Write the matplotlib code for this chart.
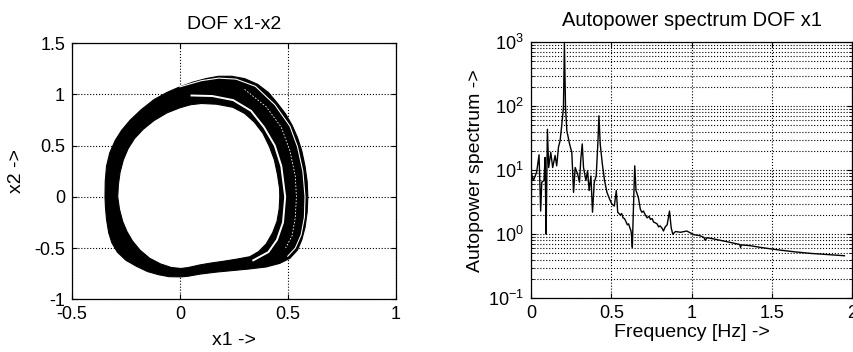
import numpy as np
import matplotlib
matplotlib.use("Agg")
import matplotlib.pyplot as plt
from matplotlib.ticker import LogLocator, NullFormatter

plt.rcParams['font.family'] = ['Liberation Sans', 'DejaVu Sans']
plt.rcParams['mathtext.default'] = 'regular'
plt.rcParams['font.size'] = 14

# --- phase portrait x1-x2 ---
# outermost edge of the trajectory bundle
outer_x1 = [-0.347, -0.346, -0.34, -0.325, -0.30, -0.27, -0.23, -0.18, -0.12, -0.06, 0.00,
            0.06, 0.12, 0.18, 0.24, 0.30, 0.36, 0.41, 0.45, 0.49, 0.52, 0.545, 0.565,
            0.58, 0.59, 0.593, 0.59, 0.58, 0.565, 0.545, 0.51, 0.463, 0.40, 0.32, 0.245,
            0.17, 0.093, 0.04, 0.005, -0.05, -0.10, -0.15, -0.20, -0.25, -0.29, -0.315,
            -0.33, -0.34, -0.345]
outer_x2 = [0.0, 0.15, 0.3, 0.43, 0.55, 0.65, 0.75, 0.85, 0.95, 1.02, 1.075,
            1.12, 1.155, 1.178, 1.178, 1.155, 1.10, 1.02, 0.92, 0.81, 0.70, 0.58, 0.45,
            0.30, 0.15, 0.0, -0.15, -0.3, -0.42, -0.52, -0.60, -0.65, -0.685, -0.705, -0.72,
            -0.735, -0.755, -0.775, -0.782, -0.78, -0.76, -0.73, -0.68, -0.62, -0.54, -0.45,
            -0.35, -0.22, -0.1]
# inner edge (the hole)
inner_x1 = [-0.288, -0.285, -0.277, -0.262, -0.24, -0.21, -0.17, -0.12, -0.06, 0.00, 0.05,
            0.10, 0.17, 0.245, 0.30, 0.345, 0.385, 0.415, 0.438, 0.452, 0.462, 0.463,
            0.460, 0.450, 0.43, 0.40, 0.365, 0.324, 0.26, 0.20, 0.14, 0.093, 0.04, 0.005,
            -0.04, -0.09, -0.14, -0.185, -0.22, -0.245, -0.265, -0.28]
inner_x2 = [0.0, 0.12, 0.24, 0.36, 0.47, 0.57, 0.66, 0.745, 0.82, 0.87, 0.90,
            0.912, 0.905, 0.875, 0.815, 0.73, 0.62, 0.49, 0.36, 0.22, 0.08, 0.0,
            -0.12, -0.24, -0.35, -0.46, -0.535, -0.585, -0.61, -0.63, -0.648, -0.665, -0.69, -0.70,
            -0.69, -0.655, -0.60, -0.52, -0.43, -0.34, -0.24, -0.12]
# white gap between the inner band and the outer cycles
gap_x1 = [0.054, 0.15, 0.247, 0.33, 0.39, 0.44, 0.47, 0.488, 0.478, 0.45, 0.41, 0.34]
gap_x2 = [0.99, 0.985, 0.945, 0.84, 0.68, 0.5, 0.3, 0.0, -0.25, -0.42, -0.54, -0.62]
# gap just inside the outermost cycle
edge_x1 = [0.0, 0.10, 0.18, 0.26, 0.35, 0.44, 0.51, 0.545, 0.57, 0.58, 0.577, 0.562, 0.535, 0.50]
edge_x2 = [1.075, 1.135, 1.16, 1.15, 1.08, 0.90, 0.69, 0.49, 0.25, 0.0, -0.2, -0.37, -0.5, -0.58]
# texture line inside the outer bundle
mid_x1 = [0.30, 0.40, 0.47, 0.51, 0.535, 0.54, 0.535, 0.52, 0.49]
mid_x2 = [1.05, 0.88, 0.68, 0.45, 0.2, 0.0, -0.2, -0.38, -0.5]

# --- autopower spectrum DOF x1 ---
freq = [0.0, 0.004, 0.015, 0.035, 0.05, 0.06, 0.067, 0.081, 0.0875, 0.094, 0.098, 0.102,
        0.11, 0.123, 0.135, 0.15, 0.16, 0.171, 0.181, 0.19, 0.202, 0.208, 0.215, 0.223,
        0.24, 0.254, 0.265, 0.275, 0.29, 0.302, 0.31, 0.319, 0.327, 0.342, 0.352, 0.362,
        0.373, 0.383, 0.394, 0.406, 0.417, 0.423, 0.431, 0.444, 0.458, 0.473, 0.49, 0.504,
        0.519, 0.531, 0.54, 0.556, 0.565, 0.573, 0.582, 0.59, 0.6, 0.608, 0.616, 0.623,
        0.627, 0.631, 0.638, 0.646, 0.654, 0.669, 0.681, 0.69, 0.70, 0.712, 0.723, 0.735,
        0.744, 0.755, 0.763, 0.775, 0.785, 0.795, 0.804, 0.815, 0.825, 0.836, 0.848, 0.8625,
        0.873, 0.883, 0.9, 0.931, 0.97, 1.015, 1.05, 1.077, 1.085, 1.096, 1.14, 1.223,
        1.30, 1.305, 1.31, 1.367, 1.431, 1.535, 1.64, 1.744, 1.848, 1.952]
power = [1.6, 8.7, 6.9, 9.3, 17.4, 2.3, 6.5, 6.9, 15.8, 1.0, 6.9, 43.6,
         11.0, 19.0, 11.0, 17.0, 11.7, 22.9, 28.8, 46.8, 95.5, 955.0, 95.5, 41.7,
         25.7, 19.0, 4.5, 11.0, 8.7, 6.5, 14.8, 25.7, 11.0, 6.9, 9.8, 4.8,
         8.1, 2.2, 6.5, 8.1, 28.8, 70.8, 25.7, 12.6, 6.9, 4.5, 3.5, 2.95,
         2.75, 4.8, 2.2, 2.0, 2.1, 1.8, 1.75, 1.6, 1.4, 1.45, 1.25, 1.12,
         0.9, 0.62, 2.6, 11.7, 4.8, 3.7, 2.45, 2.2, 2.3, 2.0, 1.8, 1.9,
         1.7, 1.75, 1.55, 1.5, 1.45, 1.3, 1.35, 1.25, 1.12, 1.3, 1.4, 2.3,
         1.26, 1.0, 1.1, 1.07, 1.12, 0.98, 0.95, 0.89, 0.8, 0.88, 0.84, 0.76,
         0.69, 0.62, 0.68, 0.66, 0.62, 0.57, 0.53, 0.50, 0.48, 0.46]

fig = plt.figure(figsize=(8.54, 3.52), dpi=100)
ax1 = fig.add_axes([0.0843, 0.150, 0.379, 0.727])
ax2 = fig.add_axes([0.6218, 0.153, 0.376, 0.727])

# left: phase portrait
ax1.fill(outer_x1, outer_x2, color='black', lw=0.8, zorder=2)
ax1.fill(inner_x1, inner_x2, color='white', ec='black', lw=0.8, zorder=3)
ax1.plot(gap_x1, gap_x2, color='white', lw=1.4, zorder=4)
ax1.plot(edge_x1, edge_x2, color='white', lw=0.8, zorder=4)
ax1.plot(mid_x1, mid_x2, color='white', lw=0.6, ls=(0, (2, 2)), zorder=4)
ax1.set_xlim(-0.5, 1)
ax1.set_ylim(-1, 1.5)
ax1.set_xticks([-0.5, 0, 0.5, 1])
ax1.set_xticklabels(['-0.5', '0', '0.5', '1'])
ax1.set_yticks([-1, -0.5, 0, 0.5, 1, 1.5])
ax1.set_yticklabels(['-1', '-0.5', '0', '0.5', '1', '1.5'])
ax1.grid(True, ls=':', color='black', lw=0.8)
ax1.set_axisbelow(True)
ax1.set_title('DOF x1-x2', fontsize=14, pad=10)
ax1.set_xlabel('x1 ->')
ax1.set_ylabel('x2 ->')
ax1.xaxis.set_label_coords(0.5, -0.13)
ax1.yaxis.set_label_coords(-0.145, 0.5)

# right: spectrum
ax2.semilogy(freq, power, color='black', lw=1.0)
ax2.set_xlim(0, 2)
ax2.set_ylim(0.1, 1000)
ax2.set_xticks([0, 0.5, 1, 1.5, 2])
ax2.set_xticklabels(['0', '0.5', '1', '1.5', '2'])
ax2.yaxis.set_major_locator(LogLocator(base=10, numticks=10))
ax2.yaxis.set_minor_locator(LogLocator(base=10, subs=np.arange(2, 10), numticks=20))
ax2.yaxis.set_minor_formatter(NullFormatter())
ax2.grid(True, which='major', ls=':', color='black', lw=0.8)
ax2.grid(True, which='minor', axis='y', ls=':', color='black', lw=0.8)
ax2.set_title('Autopower spectrum DOF x1', fontsize=14.5, pad=12)
ax2.set_xlabel('Frequency [Hz] ->')
ax2.set_ylabel('Autopower spectrum ->')
ax2.xaxis.set_label_coords(0.5, -0.1)
ax2.yaxis.set_label_coords(-0.146, 0.5)

for ax in (ax1, ax2):
    ax.tick_params(direction='in', which='both', top=True, right=True, labelsize=13, pad=5)
    for s in ax.spines.values():
        s.set_linewidth(0.9)

fig.savefig('out.png', dpi=100)
